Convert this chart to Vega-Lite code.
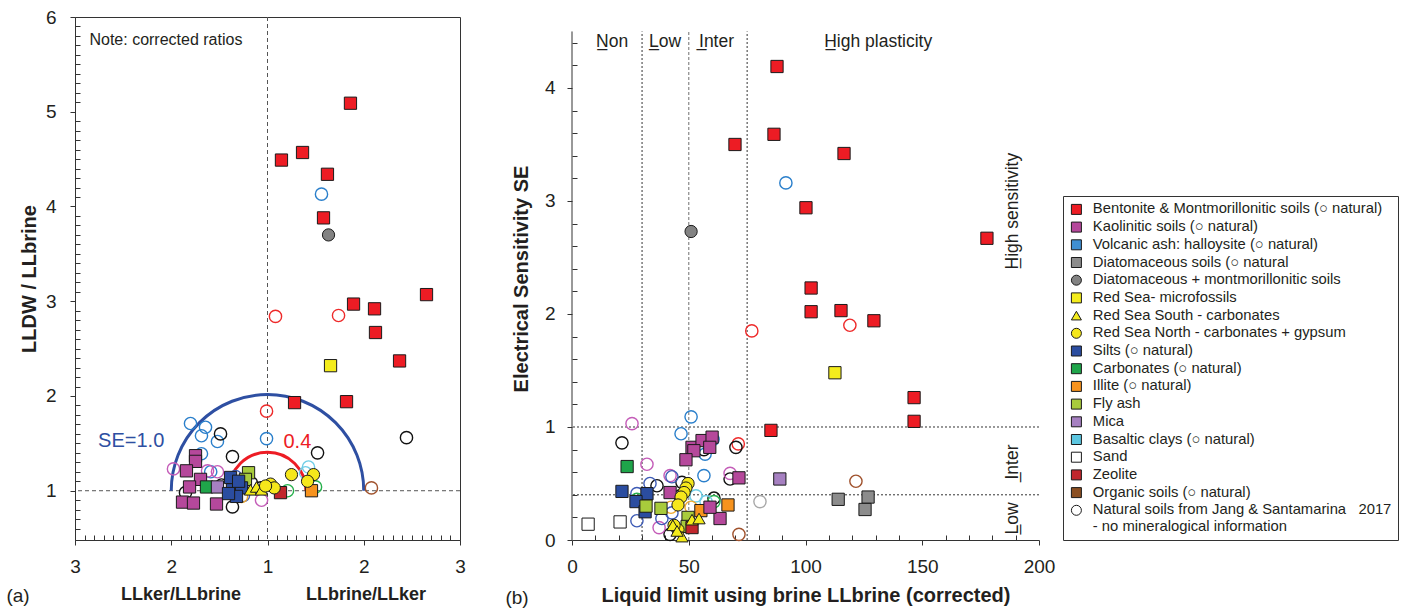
{
  "$schema": "https://vega.github.io/schema/vega-lite/v6.json",
  "padding": {"left": 5, "top": 7, "right": 0, "bottom": 0},
  "bounds": "flush",
  "spacing": 112,
  "config": {
    "font": "Liberation Sans",
    "view": {"stroke": null},
    "axis": {"labelFont": "Liberation Sans", "labelFontSize": 19, "labelColor": "#231F20", "titleFont": "Liberation Sans", "titleFontSize": 20, "titleFontWeight": "bold", "titleColor": "#231F20", "domainColor": "#333333", "tickColor": "#333333", "grid": false, "labelFlush": false, "labelOverlap": false, "labelBound": false},
    "legend": {"labelFont": "Liberation Sans", "labelFontSize": 14.8, "labelColor": "#231F20", "labelLimit": 420, "symbolStrokeWidth": 1}
  },
  "datasets": {
    "a_lab": [
      {"x": 0.862, "y": 5.09, "cat": "Bentonite & Montmorillonitic soils"},
      {"x": 0.145, "y": 4.49, "cat": "Bentonite & Montmorillonitic soils"},
      {"x": 0.364, "y": 4.57, "cat": "Bentonite & Montmorillonitic soils"},
      {"x": 0.623, "y": 4.34, "cat": "Bentonite & Montmorillonitic soils"},
      {"x": 0.582, "y": 3.88, "cat": "Bentonite & Montmorillonitic soils"},
      {"x": 0.894, "y": 2.97, "cat": "Bentonite & Montmorillonitic soils"},
      {"x": 1.112, "y": 2.92, "cat": "Bentonite & Montmorillonitic soils"},
      {"x": 1.122, "y": 2.67, "cat": "Bentonite & Montmorillonitic soils"},
      {"x": 1.652, "y": 3.07, "cat": "Bentonite & Montmorillonitic soils"},
      {"x": 1.372, "y": 2.37, "cat": "Bentonite & Montmorillonitic soils"},
      {"x": 0.281, "y": 1.93, "cat": "Bentonite & Montmorillonitic soils"},
      {"x": 0.821, "y": 1.94, "cat": "Bentonite & Montmorillonitic soils"},
      {"x": 0.634, "y": 3.70, "cat": "Diatomaceous + montmorillonitic soils"},
      {"x": 0.655, "y": 2.32, "cat": "Red Sea- microfossils"},
      {"x": -0.748, "y": 1.37, "cat": "Kaolinitic soils"},
      {"x": -0.748, "y": 1.31, "cat": "Kaolinitic soils"},
      {"x": -0.842, "y": 1.21, "cat": "Kaolinitic soils"},
      {"x": -0.696, "y": 1.12, "cat": "Kaolinitic soils"},
      {"x": -0.81, "y": 1.04, "cat": "Kaolinitic soils"},
      {"x": -0.883, "y": 0.88, "cat": "Kaolinitic soils"},
      {"x": -0.769, "y": 0.87, "cat": "Kaolinitic soils"},
      {"x": -0.53, "y": 0.86, "cat": "Kaolinitic soils"},
      {"x": -0.634, "y": 1.04, "cat": "Carbonates"},
      {"x": -0.52, "y": 1.04, "cat": "Mica"},
      {"x": -0.197, "y": 1.19, "cat": "Fly ash"},
      {"x": -0.229, "y": 1.12, "cat": "Fly ash"},
      {"x": -0.384, "y": 1.14, "cat": "Silts"},
      {"x": -0.364, "y": 1.01, "cat": "Silts"},
      {"x": -0.27, "y": 1.03, "cat": "Silts"},
      {"x": -0.322, "y": 0.94, "cat": "Silts"},
      {"x": -0.405, "y": 0.97, "cat": "Silts"},
      {"x": -0.30, "y": 1.10, "cat": "Silts"},
      {"x": -0.177, "y": 1.01, "cat": "Red Sea South - carbonates"},
      {"x": -0.114, "y": 1.04, "cat": "Red Sea South - carbonates"},
      {"x": -0.062, "y": 1.01, "cat": "Red Sea South - carbonates"},
      {"x": 0.135, "y": 0.98, "cat": "Zeolite"},
      {"x": 0.457, "y": 1.00, "cat": "Illite"},
      {"x": 0.031, "y": 1.07, "cat": "Red Sea North - carbonates + gypsum"},
      {"x": 0.249, "y": 1.17, "cat": "Red Sea North - carbonates + gypsum"},
      {"x": 0.478, "y": 1.17, "cat": "Red Sea North - carbonates + gypsum"},
      {"x": 0.416, "y": 1.10, "cat": "Red Sea North - carbonates + gypsum"},
      {"x": 0.07, "y": 1.03, "cat": "Red Sea North - carbonates + gypsum"},
      {"x": -0.02, "y": 1.05, "cat": "Red Sea North - carbonates + gypsum"}
    ],
    "a_nat": [
      {"x": 0.083, "y": 2.84, "cat": "Bentonite & Montmorillonitic soils"},
      {"x": 0.738, "y": 2.85, "cat": "Bentonite & Montmorillonitic soils"},
      {"x": -0.01, "y": 1.84, "cat": "Bentonite & Montmorillonitic soils"},
      {"x": 0.561, "y": 4.13, "cat": "Volcanic ash: halloysite"},
      {"x": -0.01, "y": 1.55, "cat": "Volcanic ash: halloysite"},
      {"x": -0.80, "y": 1.71, "cat": "Volcanic ash: halloysite"},
      {"x": -0.644, "y": 1.67, "cat": "Volcanic ash: halloysite"},
      {"x": -0.686, "y": 1.58, "cat": "Volcanic ash: halloysite"},
      {"x": -0.52, "y": 1.52, "cat": "Volcanic ash: halloysite"},
      {"x": -0.686, "y": 1.39, "cat": "Volcanic ash: halloysite"},
      {"x": -0.59, "y": 1.20, "cat": "Volcanic ash: halloysite"},
      {"x": 1.444, "y": 1.56, "cat": "Natural soils from Jang & Santamarina 2017"},
      {"x": 0.52, "y": 1.40, "cat": "Natural soils from Jang & Santamarina 2017"},
      {"x": -0.488, "y": 1.60, "cat": "Natural soils from Jang & Santamarina 2017"},
      {"x": -0.364, "y": 1.36, "cat": "Natural soils from Jang & Santamarina 2017"},
      {"x": -0.364, "y": 0.83, "cat": "Natural soils from Jang & Santamarina 2017"},
      {"x": -0.852, "y": 0.98, "cat": "Natural soils from Jang & Santamarina 2017"},
      {"x": -0.353, "y": 1.08, "cat": "Natural soils from Jang & Santamarina 2017"},
      {"x": -0.166, "y": 1.08, "cat": "Natural soils from Jang & Santamarina 2017"},
      {"x": -0.478, "y": 1.06, "cat": "Natural soils from Jang & Santamarina 2017"},
      {"x": -0.07, "y": 1.03, "cat": "Natural soils from Jang & Santamarina 2017"},
      {"x": -0.25, "y": 1.05, "cat": "Natural soils from Jang & Santamarina 2017"},
      {"x": 1.08, "y": 1.03, "cat": "Organic soils"},
      {"x": -0.977, "y": 1.23, "cat": "Kaolinitic soils"},
      {"x": -0.623, "y": 1.21, "cat": "Kaolinitic soils"},
      {"x": -0.52, "y": 1.20, "cat": "Kaolinitic soils"},
      {"x": -0.062, "y": 0.90, "cat": "Kaolinitic soils"},
      {"x": -0.332, "y": 1.15, "cat": "Silts"},
      {"x": -0.25, "y": 0.95, "cat": "Silts"},
      {"x": -0.27, "y": 0.94, "cat": "Illite"},
      {"x": 0.208, "y": 1.00, "cat": "Carbonates"},
      {"x": 0.499, "y": 1.04, "cat": "Carbonates"},
      {"x": 0.426, "y": 1.25, "cat": "Basaltic clays"},
      {"x": 0.395, "y": 1.19, "cat": "Basaltic clays"}
    ],
    "b_lab": [
      {"x": 87.8, "y": 4.19, "cat": "Bentonite & Montmorillonitic soils"},
      {"x": 86.5, "y": 3.59, "cat": "Bentonite & Montmorillonitic soils"},
      {"x": 69.8, "y": 3.50, "cat": "Bentonite & Montmorillonitic soils"},
      {"x": 116.5, "y": 3.42, "cat": "Bentonite & Montmorillonitic soils"},
      {"x": 100.2, "y": 2.94, "cat": "Bentonite & Montmorillonitic soils"},
      {"x": 177.7, "y": 2.67, "cat": "Bentonite & Montmorillonitic soils"},
      {"x": 102.4, "y": 2.23, "cat": "Bentonite & Montmorillonitic soils"},
      {"x": 102.4, "y": 2.02, "cat": "Bentonite & Montmorillonitic soils"},
      {"x": 115.2, "y": 2.03, "cat": "Bentonite & Montmorillonitic soils"},
      {"x": 129.3, "y": 1.94, "cat": "Bentonite & Montmorillonitic soils"},
      {"x": 146.5, "y": 1.26, "cat": "Bentonite & Montmorillonitic soils"},
      {"x": 146.5, "y": 1.05, "cat": "Bentonite & Montmorillonitic soils"},
      {"x": 85.2, "y": 0.97, "cat": "Bentonite & Montmorillonitic soils"},
      {"x": 51, "y": 2.73, "cat": "Diatomaceous + montmorillonitic soils"},
      {"x": 112.6, "y": 1.48, "cat": "Red Sea- microfossils"},
      {"x": 89, "y": 0.54, "cat": "Mica"},
      {"x": 114, "y": 0.36, "cat": "Diatomaceous soils"},
      {"x": 126.8, "y": 0.38, "cat": "Diatomaceous soils"},
      {"x": 125.5, "y": 0.27, "cat": "Diatomaceous soils"},
      {"x": 66.8, "y": 0.31, "cat": "Illite"},
      {"x": 55.2, "y": 0.26, "cat": "Illite"},
      {"x": 63.4, "y": 0.19, "cat": "Kaolinitic soils"},
      {"x": 71.5, "y": 0.55, "cat": "Kaolinitic soils"},
      {"x": 51.4, "y": 0.82, "cat": "Kaolinitic soils"},
      {"x": 55.7, "y": 0.88, "cat": "Kaolinitic soils"},
      {"x": 60, "y": 0.91, "cat": "Kaolinitic soils"},
      {"x": 59, "y": 0.82, "cat": "Kaolinitic soils"},
      {"x": 52.2, "y": 0.79, "cat": "Kaolinitic soils"},
      {"x": 48.8, "y": 0.71, "cat": "Kaolinitic soils"},
      {"x": 42, "y": 0.42, "cat": "Kaolinitic soils"},
      {"x": 59.1, "y": 0.29, "cat": "Kaolinitic soils"},
      {"x": 23.6, "y": 0.65, "cat": "Carbonates"},
      {"x": 21.4, "y": 0.43, "cat": "Silts"},
      {"x": 32.1, "y": 0.41, "cat": "Silts"},
      {"x": 27.4, "y": 0.34, "cat": "Silts"},
      {"x": 31.3, "y": 0.25, "cat": "Silts"},
      {"x": 6.9, "y": 0.14, "cat": "Sand"},
      {"x": 20.6, "y": 0.16, "cat": "Sand"},
      {"x": 31.7, "y": 0.30, "cat": "Fly ash"},
      {"x": 38.1, "y": 0.28, "cat": "Fly ash"},
      {"x": 49.7, "y": 0.20, "cat": "Fly ash"},
      {"x": 49.3, "y": 0.12, "cat": "Fly ash"},
      {"x": 51.4, "y": 0.11, "cat": "Zeolite"},
      {"x": 49.7, "y": 0.50, "cat": "Red Sea North - carbonates + gypsum"},
      {"x": 48.8, "y": 0.46, "cat": "Red Sea North - carbonates + gypsum"},
      {"x": 48, "y": 0.42, "cat": "Red Sea North - carbonates + gypsum"},
      {"x": 46.7, "y": 0.38, "cat": "Red Sea North - carbonates + gypsum"},
      {"x": 45.4, "y": 0.31, "cat": "Red Sea North - carbonates + gypsum"},
      {"x": 45.4, "y": 0.09, "cat": "Red Sea North - carbonates + gypsum"},
      {"x": 43.7, "y": 0.13, "cat": "Red Sea North - carbonates + gypsum"},
      {"x": 51.4, "y": 0.18, "cat": "Red Sea South - carbonates"},
      {"x": 54.4, "y": 0.19, "cat": "Red Sea South - carbonates"},
      {"x": 43.2, "y": 0.13, "cat": "Red Sea South - carbonates"},
      {"x": 47.1, "y": 0.03, "cat": "Red Sea South - carbonates"},
      {"x": 45, "y": 0.08, "cat": "Red Sea South - carbonates"}
    ],
    "b_nat": [
      {"x": 77, "y": 1.85, "cat": "Bentonite & Montmorillonitic soils"},
      {"x": 119, "y": 1.90, "cat": "Bentonite & Montmorillonitic soils"},
      {"x": 71.2, "y": 0.85, "cat": "Bentonite & Montmorillonitic soils"},
      {"x": 91.6, "y": 3.16, "cat": "Volcanic ash: halloysite"},
      {"x": 51, "y": 1.09, "cat": "Volcanic ash: halloysite"},
      {"x": 46.7, "y": 0.94, "cat": "Volcanic ash: halloysite"},
      {"x": 60.4, "y": 0.89, "cat": "Volcanic ash: halloysite"},
      {"x": 57, "y": 0.76, "cat": "Volcanic ash: halloysite"},
      {"x": 56.5, "y": 0.57, "cat": "Volcanic ash: halloysite"},
      {"x": 121.6, "y": 0.52, "cat": "Organic soils"},
      {"x": 71.5, "y": 0.05, "cat": "Organic soils"},
      {"x": 80.5, "y": 0.34, "cat": "Diatomaceous soils"},
      {"x": 67.7, "y": 0.54, "cat": "Natural soils from Jang & Santamarina 2017"},
      {"x": 70.2, "y": 0.82, "cat": "Natural soils from Jang & Santamarina 2017"},
      {"x": 56.5, "y": 0.80, "cat": "Natural soils from Jang & Santamarina 2017"},
      {"x": 21.4, "y": 0.86, "cat": "Natural soils from Jang & Santamarina 2017"},
      {"x": 36.4, "y": 0.48, "cat": "Natural soils from Jang & Santamarina 2017"},
      {"x": 47.1, "y": 0.51, "cat": "Natural soils from Jang & Santamarina 2017"},
      {"x": 46.3, "y": 0.39, "cat": "Natural soils from Jang & Santamarina 2017"},
      {"x": 42, "y": 0.05, "cat": "Natural soils from Jang & Santamarina 2017"},
      {"x": 60.8, "y": 0.37, "cat": "Natural soils from Jang & Santamarina 2017"},
      {"x": 67.7, "y": 0.59, "cat": "Kaolinitic soils"},
      {"x": 25.7, "y": 1.03, "cat": "Kaolinitic soils"},
      {"x": 32.1, "y": 0.67, "cat": "Kaolinitic soils"},
      {"x": 42, "y": 0.57, "cat": "Kaolinitic soils"},
      {"x": 37.3, "y": 0.11, "cat": "Kaolinitic soils"},
      {"x": 27.8, "y": 0.41, "cat": "Silts"},
      {"x": 27.8, "y": 0.17, "cat": "Silts"},
      {"x": 33.4, "y": 0.50, "cat": "Silts"},
      {"x": 42.8, "y": 0.56, "cat": "Silts"},
      {"x": 38.5, "y": 0.19, "cat": "Silts"},
      {"x": 42.8, "y": 0.24, "cat": "Silts"},
      {"x": 27.8, "y": 0.36, "cat": "Carbonates"},
      {"x": 60.8, "y": 0.34, "cat": "Carbonates"},
      {"x": 53.1, "y": 0.39, "cat": "Basaltic clays"},
      {"x": 57.4, "y": 0.34, "cat": "Basaltic clays"},
      {"x": 42.4, "y": 0.29, "cat": "Illite"},
      {"x": 51, "y": 0.29, "cat": "Illite"}
    ]
  },
  "hconcat": [
    {
      "width": 385,
      "height": 523,
      "view": {"stroke": "#333333", "strokeWidth": 1},
      "title": {"text": "(a)", "orient": "bottom", "anchor": "start", "frame": "bounds", "offset": -16, "dx": -13, "fontSize": 19, "fontWeight": "normal", "font": "Liberation Sans", "color": "#231F20"},
      "layer": [
        {"data": {"values": [{}]}, "mark": {"type": "rule", "strokeDash": [4, 3], "color": "#555555", "strokeWidth": 1}, "encoding": {"x": {"datum": 0}}},
        {"data": {"values": [{}]}, "mark": {"type": "rule", "strokeDash": [4, 3], "color": "#555555", "strokeWidth": 1}, "encoding": {"y": {"datum": 1}}},
        {"data": {"values": [{"se": 1.0}]}, "mark": {"type": "arc", "theta": -1.5708, "theta2": 1.5708, "filled": false, "stroke": "#2E4FA2", "strokeWidth": 3},
         "encoding": {"x": {"datum": 0}, "y": {"datum": 1}, "radius": {"field": "se", "type": "quantitative", "scale": {"type": "linear", "domain": [0, 2], "range": [0, 192.5]}}, "radius2": {"field": "se"}}},
        {"data": {"values": [{"se": 0.4}]}, "mark": {"type": "arc", "theta": -1.5708, "theta2": 1.5708, "filled": false, "stroke": "#ED1C24", "strokeWidth": 3},
         "encoding": {"x": {"datum": 0}, "y": {"datum": 1}, "radius": {"field": "se", "type": "quantitative", "scale": {"type": "linear", "domain": [0, 2], "range": [0, 192.5]}}, "radius2": {"field": "se"}}},
        {
          "encoding": {
            "x": {"field": "x", "type": "quantitative", "scale": {"domain": [-2, 2], "nice": false, "zero": false},
              "axis": {"title": "LLker/LLbrine\u00a0\u00a0\u00a0\u00a0\u00a0\u00a0\u00a0\u00a0\u00a0\u00a0\u00a0\u00a0\u00a0LLbrine/LLker", "titleFontSize": 18, "titleX": 198, "titlePadding": 9, "labelOverlap": false, "tickCount": 200,
                "values": [-2,-1.9,-1.8,-1.7,-1.6,-1.5,-1.4,-1.3,-1.2,-1.1,-1,-0.9,-0.8,-0.7,-0.6,-0.5,-0.4,-0.3,-0.2,-0.1,0,0.1,0.2,0.3,0.4,0.5,0.6,0.7,0.8,0.9,1,1.1,1.2,1.3,1.4,1.5,1.6,1.7,1.8,1.9,2],
                "labelExpr": "abs(datum.value-round(datum.value))<0.001 ? format(1+abs(datum.value),'d') : ''",
                "tickSize": {"condition": {"test": "abs(datum.value-round(datum.value))<0.001", "value": 5}, "value": -5},
                "labelPadding": 12}},
            "y": {"field": "y", "type": "quantitative", "scale": {"domain": [0.48, 6], "nice": false, "zero": false},
              "axis": {"title": "LLDW / LLbrine", "titlePadding": 6, "labelOverlap": false, "tickCount": 200,
                "values": [0.6,0.7,0.8,0.9,1,1.1,1.2,1.3,1.4,1.5,1.6,1.7,1.8,1.9,2,2.1,2.2,2.3,2.4,2.5,2.6,2.7,2.8,2.9,3,3.1,3.2,3.3,3.4,3.5,3.6,3.7,3.8,3.9,4,4.1,4.2,4.3,4.4,4.5,4.6,4.7,4.8,4.9,5,5.1,5.2,5.3,5.4,5.5,5.6,5.7,5.8,5.9,6],
                "labelExpr": "abs(datum.value-round(datum.value))<0.001 ? format(datum.value,'d') : ''",
                "tickSize": {"condition": {"test": "abs(datum.value-round(datum.value))<0.001", "value": 5}, "value": -5},
                "labelPadding": 14}}
          },
          "layer": [
            {"data": {"name": "a_nat"}, "mark": {"type": "point", "shape": "circle", "filled": false, "size": 150, "strokeWidth": 1.4, "opacity": 1},
             "encoding": {"color": {"field": "cat", "type": "nominal", "legend": null,
               "scale": {"domain": ["Bentonite & Montmorillonitic soils","Kaolinitic soils","Volcanic ash: halloysite","Diatomaceous soils","Silts","Carbonates","Illite","Basaltic clays","Organic soils","Natural soils from Jang & Santamarina 2017"],
                 "range": ["#EE2A2A","#C45CB8","#2A7FCB","#A8A8A8","#3D5BB5","#27B04C","#F2AA2E","#6ECDE6","#A0522D","#111111"]}}}},
            {"data": {"name": "a_lab"}, "mark": {"type": "point", "filled": true, "size": 150, "strokeWidth": 1, "opacity": 1},
             "encoding": {
               "fill": {"field": "cat", "type": "nominal",
                 "scale": {"domain": ["Bentonite & Montmorillonitic soils","Kaolinitic soils","Volcanic ash: halloysite","Diatomaceous soils","Diatomaceous + montmorillonitic soils","Red Sea- microfossils","Red Sea South - carbonates","Red Sea North - carbonates + gypsum","Silts","Carbonates","Illite","Fly ash","Mica","Basaltic clays","Sand","Zeolite","Organic soils","Natural soils from Jang & Santamarina 2017"],
                   "range": ["#ED1C24","#B5489B","#3F8FD2","#8C8C8C","#838383","#F4EC1C","#F4EC1C","#F6E71B","#2B4DA0","#1FA54A","#F7931E","#A8CB3C","#A680C1","#5CC6E0","#FFFFFF","#C1272D","#8B4F22","#FFFFFF"]},
                 "legend": {"orient": "none", "legendX": 988, "legendY": 179, "title": null, "strokeColor": "#333333", "fillColor": "#FFFFFF", "padding": 6, "rowPadding": 1.7, "symbolSize": 100, "symbolStrokeWidth": 1, "labelOffset": 9,
                   "labelExpr": "datum.label == 'Natural soils from Jang & Santamarina 2017' ? ['Natural soils from Jang & Santamarina\u00a0\u00a0\u00a02017', '- no mineralogical information'] : datum.label == 'Diatomaceous soils' ? 'Diatomaceous soils (○ natural' : indexof(['Bentonite & Montmorillonitic soils','Kaolinitic soils','Volcanic ash: halloysite','Silts','Carbonates','Illite','Basaltic clays','Organic soils'], datum.label) >= 0 ? datum.label + ' (○ natural)' : datum.label"}},
               "shape": {"field": "cat", "type": "nominal",
                 "scale": {"domain": ["Bentonite & Montmorillonitic soils","Kaolinitic soils","Volcanic ash: halloysite","Diatomaceous soils","Diatomaceous + montmorillonitic soils","Red Sea- microfossils","Red Sea South - carbonates","Red Sea North - carbonates + gypsum","Silts","Carbonates","Illite","Fly ash","Mica","Basaltic clays","Sand","Zeolite","Organic soils","Natural soils from Jang & Santamarina 2017"],
                   "range": ["square","square","square","square","circle","square","triangle-up","circle","square","square","square","square","square","square","square","square","square","circle"]},
                 "legend": {"orient": "none", "legendX": 988, "legendY": 179, "title": null, "strokeColor": "#333333", "fillColor": "#FFFFFF", "padding": 6, "rowPadding": 1.7, "symbolSize": 100, "symbolStrokeWidth": 1, "labelOffset": 9,
                   "labelExpr": "datum.label == 'Natural soils from Jang & Santamarina 2017' ? ['Natural soils from Jang & Santamarina\u00a0\u00a0\u00a02017', '- no mineralogical information'] : datum.label == 'Diatomaceous soils' ? 'Diatomaceous soils (○ natural' : indexof(['Bentonite & Montmorillonitic soils','Kaolinitic soils','Volcanic ash: halloysite','Silts','Carbonates','Illite','Basaltic clays','Organic soils'], datum.label) >= 0 ? datum.label + ' (○ natural)' : datum.label"}},
               "stroke": {"field": "cat", "type": "nominal",
                 "scale": {"domain": ["Bentonite & Montmorillonitic soils","Kaolinitic soils","Volcanic ash: halloysite","Diatomaceous soils","Diatomaceous + montmorillonitic soils","Red Sea- microfossils","Red Sea South - carbonates","Red Sea North - carbonates + gypsum","Silts","Carbonates","Illite","Fly ash","Mica","Basaltic clays","Sand","Zeolite","Organic soils","Natural soils from Jang & Santamarina 2017"],
                   "range": ["#1A1A1A","#1A1A1A","#1A1A1A","#1A1A1A","#1A1A1A","#1A1A1A","#1A1A1A","#1A1A1A","#1A1A1A","#1A1A1A","#1A1A1A","#1A1A1A","#1A1A1A","#1A1A1A","#1A1A1A","#1A1A1A","#1A1A1A","#1A1A1A"]},
                 "legend": {"orient": "none", "legendX": 988, "legendY": 179, "title": null, "strokeColor": "#333333", "fillColor": "#FFFFFF", "padding": 6, "rowPadding": 1.7, "symbolSize": 100, "symbolStrokeWidth": 1, "labelOffset": 9,
                   "labelExpr": "datum.label == 'Natural soils from Jang & Santamarina 2017' ? ['Natural soils from Jang & Santamarina\u00a0\u00a0\u00a02017', '- no mineralogical information'] : datum.label == 'Diatomaceous soils' ? 'Diatomaceous soils (○ natural' : indexof(['Bentonite & Montmorillonitic soils','Kaolinitic soils','Volcanic ash: halloysite','Silts','Carbonates','Illite','Basaltic clays','Organic soils'], datum.label) >= 0 ? datum.label + ' (○ natural)' : datum.label"}}
             }}
          ]
        },
        {"data": {"values": [{}]}, "mark": {"type": "text", "align": "left", "baseline": "middle", "fontSize": 16, "color": "#231F20"}, "encoding": {"x": {"datum": -1.85}, "y": {"datum": 5.76}, "text": {"value": "Note: corrected ratios"}}},
        {"data": {"values": [{}]}, "mark": {"type": "text", "align": "left", "baseline": "middle", "fontSize": 20, "color": "#2E4FA2"}, "encoding": {"x": {"datum": -1.76}, "y": {"datum": 1.52}, "text": {"value": "SE=1.0"}}},
        {"data": {"values": [{}]}, "mark": {"type": "text", "align": "left", "baseline": "middle", "fontSize": 20, "color": "#ED1C24"}, "encoding": {"x": {"datum": 0.166}, "y": {"datum": 1.51}, "text": {"value": "0.4"}}}
      ]
    },
    {
      "width": 467,
      "height": 523,
      "title": {"text": "(b)", "orient": "bottom", "anchor": "start", "frame": "bounds", "offset": -16, "dx": -6, "fontSize": 19, "fontWeight": "normal", "font": "Liberation Sans", "color": "#231F20"},
      "layer": [
        {"data": {"values": [{}]}, "mark": {"type": "rule", "strokeDash": [2, 2], "color": "#333333", "strokeWidth": 1}, "encoding": {"x": {"datum": 30}, "y": {"datum": 0}, "y2": {"datum": 4.5}}},
        {"data": {"values": [{}]}, "mark": {"type": "rule", "strokeDash": [3, 2], "color": "#888888", "strokeWidth": 1.2}, "encoding": {"x": {"datum": 50}, "y": {"datum": 0}, "y2": {"datum": 4.5}}},
        {"data": {"values": [{}]}, "mark": {"type": "rule", "strokeDash": [2, 2], "color": "#333333", "strokeWidth": 1}, "encoding": {"x": {"datum": 75}, "y": {"datum": 0}, "y2": {"datum": 4.5}}},
        {"data": {"values": [{}]}, "mark": {"type": "rule", "strokeDash": [2, 2], "color": "#333333", "strokeWidth": 1}, "encoding": {"y": {"datum": 1}}},
        {"data": {"values": [{}]}, "mark": {"type": "rule", "strokeDash": [2, 2], "color": "#333333", "strokeWidth": 1}, "encoding": {"y": {"datum": 0.4}}},
        {"data": {"values": [{}]}, "mark": {"type": "rule", "color": "#333333", "strokeWidth": 1}, "encoding": {"x": {"datum": 0}, "y": {"datum": 0}, "y2": {"datum": 4.5}}},
        {
          "encoding": {
            "x": {"field": "x", "type": "quantitative", "scale": {"domain": [0, 200], "nice": false, "zero": false},
              "axis": {"title": "Liquid limit using brine LLbrine (corrected)", "titlePadding": 9, "labelOverlap": false, "tickCount": 200,
                "values": [0,10,20,30,40,50,60,70,80,90,100,110,120,130,140,150,160,170,180,190,200],
                "labelExpr": "datum.value % 50 == 0 ? format(datum.value,'d') : ''",
                "tickSize": {"condition": {"test": "datum.value % 50 == 0", "value": 5}, "value": -5},
                "labelPadding": 12}},
            "y": {"field": "y", "type": "quantitative", "scale": {"domain": [0, 4.628], "nice": false, "zero": false},
              "axis": {"title": "Electrical Sensitivity SE", "titlePadding": 13, "domain": false, "labelOverlap": false, "tickCount": 200,
                "values": [0,0.2,0.4,0.6,0.8,1,1.2,1.4,1.6,1.8,2,2.2,2.4,2.6,2.8,3,3.2,3.4,3.6,3.8,4,4.2,4.4],
                "labelExpr": "abs(datum.value-round(datum.value))<0.001 ? format(datum.value,'d') : ''",
                "tickSize": {"condition": {"test": "abs(datum.value-round(datum.value))<0.001", "value": 5}, "value": -5},
                "labelPadding": 12}}
          },
          "layer": [
            {"data": {"name": "b_nat"}, "mark": {"type": "point", "shape": "circle", "filled": false, "size": 150, "strokeWidth": 1.4, "opacity": 1},
             "encoding": {"color": {"field": "cat", "type": "nominal", "legend": null,
               "scale": {"domain": ["Bentonite & Montmorillonitic soils","Kaolinitic soils","Volcanic ash: halloysite","Diatomaceous soils","Silts","Carbonates","Illite","Basaltic clays","Organic soils","Natural soils from Jang & Santamarina 2017"],
                 "range": ["#EE2A2A","#C45CB8","#2A7FCB","#A8A8A8","#3D5BB5","#27B04C","#F2AA2E","#6ECDE6","#A0522D","#111111"]}}}},
            {"data": {"name": "b_lab"}, "mark": {"type": "point", "filled": true, "size": 150, "strokeWidth": 1, "opacity": 1},
             "encoding": {
               "fill": {"field": "cat", "type": "nominal",
                 "scale": {"domain": ["Bentonite & Montmorillonitic soils","Kaolinitic soils","Volcanic ash: halloysite","Diatomaceous soils","Diatomaceous + montmorillonitic soils","Red Sea- microfossils","Red Sea South - carbonates","Red Sea North - carbonates + gypsum","Silts","Carbonates","Illite","Fly ash","Mica","Basaltic clays","Sand","Zeolite","Organic soils","Natural soils from Jang & Santamarina 2017"],
                   "range": ["#ED1C24","#B5489B","#3F8FD2","#8C8C8C","#838383","#F4EC1C","#F4EC1C","#F6E71B","#2B4DA0","#1FA54A","#F7931E","#A8CB3C","#A680C1","#5CC6E0","#FFFFFF","#C1272D","#8B4F22","#FFFFFF"]},
                 "legend": {"orient": "none", "legendX": 988, "legendY": 179, "title": null, "strokeColor": "#333333", "fillColor": "#FFFFFF", "padding": 6, "rowPadding": 1.7, "symbolSize": 100, "symbolStrokeWidth": 1, "labelOffset": 9,
                   "labelExpr": "datum.label == 'Natural soils from Jang & Santamarina 2017' ? ['Natural soils from Jang & Santamarina\u00a0\u00a0\u00a02017', '- no mineralogical information'] : datum.label == 'Diatomaceous soils' ? 'Diatomaceous soils (○ natural' : indexof(['Bentonite & Montmorillonitic soils','Kaolinitic soils','Volcanic ash: halloysite','Silts','Carbonates','Illite','Basaltic clays','Organic soils'], datum.label) >= 0 ? datum.label + ' (○ natural)' : datum.label"}},
               "shape": {"field": "cat", "type": "nominal",
                 "scale": {"domain": ["Bentonite & Montmorillonitic soils","Kaolinitic soils","Volcanic ash: halloysite","Diatomaceous soils","Diatomaceous + montmorillonitic soils","Red Sea- microfossils","Red Sea South - carbonates","Red Sea North - carbonates + gypsum","Silts","Carbonates","Illite","Fly ash","Mica","Basaltic clays","Sand","Zeolite","Organic soils","Natural soils from Jang & Santamarina 2017"],
                   "range": ["square","square","square","square","circle","square","triangle-up","circle","square","square","square","square","square","square","square","square","square","circle"]},
                 "legend": {"orient": "none", "legendX": 988, "legendY": 179, "title": null, "strokeColor": "#333333", "fillColor": "#FFFFFF", "padding": 6, "rowPadding": 1.7, "symbolSize": 100, "symbolStrokeWidth": 1, "labelOffset": 9,
                   "labelExpr": "datum.label == 'Natural soils from Jang & Santamarina 2017' ? ['Natural soils from Jang & Santamarina\u00a0\u00a0\u00a02017', '- no mineralogical information'] : datum.label == 'Diatomaceous soils' ? 'Diatomaceous soils (○ natural' : indexof(['Bentonite & Montmorillonitic soils','Kaolinitic soils','Volcanic ash: halloysite','Silts','Carbonates','Illite','Basaltic clays','Organic soils'], datum.label) >= 0 ? datum.label + ' (○ natural)' : datum.label"}},
               "stroke": {"field": "cat", "type": "nominal",
                 "scale": {"domain": ["Bentonite & Montmorillonitic soils","Kaolinitic soils","Volcanic ash: halloysite","Diatomaceous soils","Diatomaceous + montmorillonitic soils","Red Sea- microfossils","Red Sea South - carbonates","Red Sea North - carbonates + gypsum","Silts","Carbonates","Illite","Fly ash","Mica","Basaltic clays","Sand","Zeolite","Organic soils","Natural soils from Jang & Santamarina 2017"],
                   "range": ["#1A1A1A","#1A1A1A","#1A1A1A","#1A1A1A","#1A1A1A","#1A1A1A","#1A1A1A","#1A1A1A","#1A1A1A","#1A1A1A","#1A1A1A","#1A1A1A","#1A1A1A","#1A1A1A","#1A1A1A","#1A1A1A","#1A1A1A","#1A1A1A"]},
                 "legend": {"orient": "none", "legendX": 988, "legendY": 179, "title": null, "strokeColor": "#333333", "fillColor": "#FFFFFF", "padding": 6, "rowPadding": 1.7, "symbolSize": 100, "symbolStrokeWidth": 1, "labelOffset": 9,
                   "labelExpr": "datum.label == 'Natural soils from Jang & Santamarina 2017' ? ['Natural soils from Jang & Santamarina\u00a0\u00a0\u00a02017', '- no mineralogical information'] : datum.label == 'Diatomaceous soils' ? 'Diatomaceous soils (○ natural' : indexof(['Bentonite & Montmorillonitic soils','Kaolinitic soils','Volcanic ash: halloysite','Silts','Carbonates','Illite','Basaltic clays','Organic soils'], datum.label) >= 0 ? datum.label + ' (○ natural)' : datum.label"}}
             }}
          ]
        },
        {"data": {"values": [{}]}, "mark": {"type": "text", "align": "left", "baseline": "middle", "fontSize": 17.5, "color": "#231F20"}, "encoding": {"x": {"datum": 10.3}, "y": {"datum": 4.41}, "text": {"value": "N\u0332on"}}},
        {"data": {"values": [{}]}, "mark": {"type": "text", "align": "left", "baseline": "middle", "fontSize": 17.5, "color": "#231F20"}, "encoding": {"x": {"datum": 33}, "y": {"datum": 4.41}, "text": {"value": "L\u0332ow"}}},
        {"data": {"values": [{}]}, "mark": {"type": "text", "align": "left", "baseline": "middle", "fontSize": 17.5, "color": "#231F20"}, "encoding": {"x": {"datum": 54.4}, "y": {"datum": 4.41}, "text": {"value": "I\u0332nter"}}},
        {"data": {"values": [{}]}, "mark": {"type": "text", "align": "left", "baseline": "middle", "fontSize": 17.5, "color": "#231F20"}, "encoding": {"x": {"datum": 108}, "y": {"datum": 4.41}, "text": {"value": "H\u0332igh plasticity"}}},
        {"data": {"values": [{}]}, "mark": {"type": "text", "align": "center", "baseline": "middle", "angle": 270, "fontSize": 17.5, "color": "#231F20"}, "encoding": {"x": {"datum": 189}, "y": {"datum": 2.91}, "text": {"value": "H\u0332igh sensitivity"}}},
        {"data": {"values": [{}]}, "mark": {"type": "text", "align": "center", "baseline": "middle", "angle": 270, "fontSize": 17.5, "color": "#231F20"}, "encoding": {"x": {"datum": 189}, "y": {"datum": 0.69}, "text": {"value": "I\u0332nter"}}},
        {"data": {"values": [{}]}, "mark": {"type": "text", "align": "center", "baseline": "middle", "angle": 270, "fontSize": 17.5, "color": "#231F20"}, "encoding": {"x": {"datum": 189}, "y": {"datum": 0.19}, "text": {"value": "L\u0332ow"}}}
      ]
    }
  ]
}
